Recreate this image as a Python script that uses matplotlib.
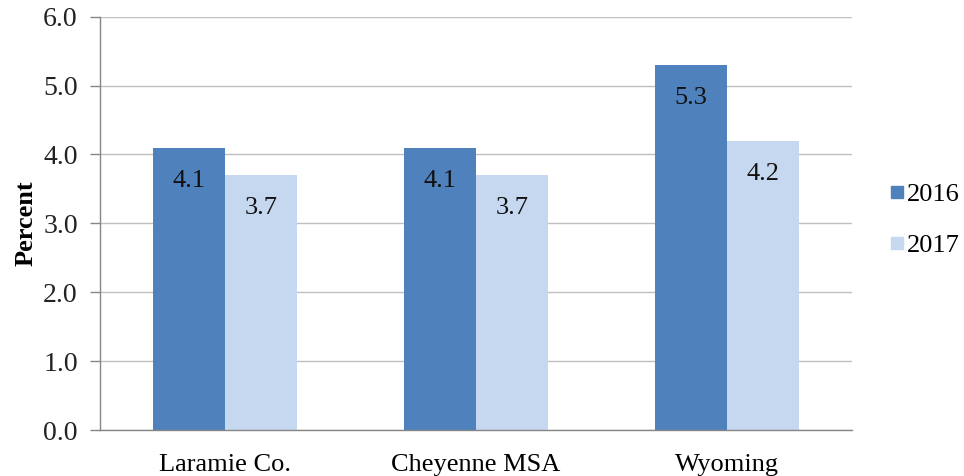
import numpy as np
import matplotlib
matplotlib.use("Agg")
import matplotlib.pyplot as plt
from matplotlib.lines import Line2D

categories = ["Laramie Co.", "Cheyenne MSA", "Wyoming"]
years = ["2016", "2017"]
vals_2016 = [4.1, 4.1, 5.3]
vals_2017 = [3.7, 3.7, 4.2]
colors = ["#4F81BD", "#C6D8EF"]

plt.rcParams["font.family"] = ["Liberation Serif", "DejaVu Serif"]

fig = plt.figure(figsize=(9.64, 4.76), dpi=100)
ax = fig.add_axes([0.1037, 0.0966, 0.7801, 0.8683])

x = np.arange(len(categories))
w = 0.2875
for i, (vals, c) in enumerate([(vals_2016, colors[0]), (vals_2017, colors[1])]):
    xs = x + (i - 0.5) * w
    ax.bar(xs, vals, width=w, color=c, zorder=2)
    for xi, v in zip(xs, vals):
        ax.annotate(f"{v:.1f}", (xi, v), xytext=(0, -24), textcoords="offset points",
                    ha="center", va="center", fontsize=19, color="#111111")

ax.set_xlim(-0.5, 2.5)
ax.set_ylim(0, 6)
ax.set_yticks(np.arange(0, 6.1, 1.0))
ax.set_yticklabels([f"{t:.1f}" for t in np.arange(0, 6.1, 1.0)], fontsize=20, color="#222222")
ax.set_xticks(x)
ax.set_xticklabels(categories, fontsize=19)
ax.tick_params(axis="x", length=0, pad=17)
ax.tick_params(axis="y", length=7, width=1, color="#868686", pad=9)
ax.yaxis.grid(True, color="#C0C0C0", linewidth=1, zorder=0)
ax.set_axisbelow(True)
for s in ["top", "right"]:
    ax.spines[s].set_visible(False)
for s in ["left", "bottom"]:
    ax.spines[s].set_color("#868686")
    ax.spines[s].set_linewidth(1)
ax.set_ylabel("Percent", fontsize=19, fontweight="bold", labelpad=4)

handles = [Line2D([], [], marker="s", linestyle="", markersize=8,
                  markerfacecolor=c, markeredgecolor=c) for c in colors]
fig.legend(handles, years, loc="center left", bbox_to_anchor=(0.922, 0.538),
           frameon=False, fontsize=19, handletextpad=0.1, labelspacing=1.05,
           handlelength=0.6, borderaxespad=0, borderpad=0)

fig.savefig("out.png", dpi=100)
